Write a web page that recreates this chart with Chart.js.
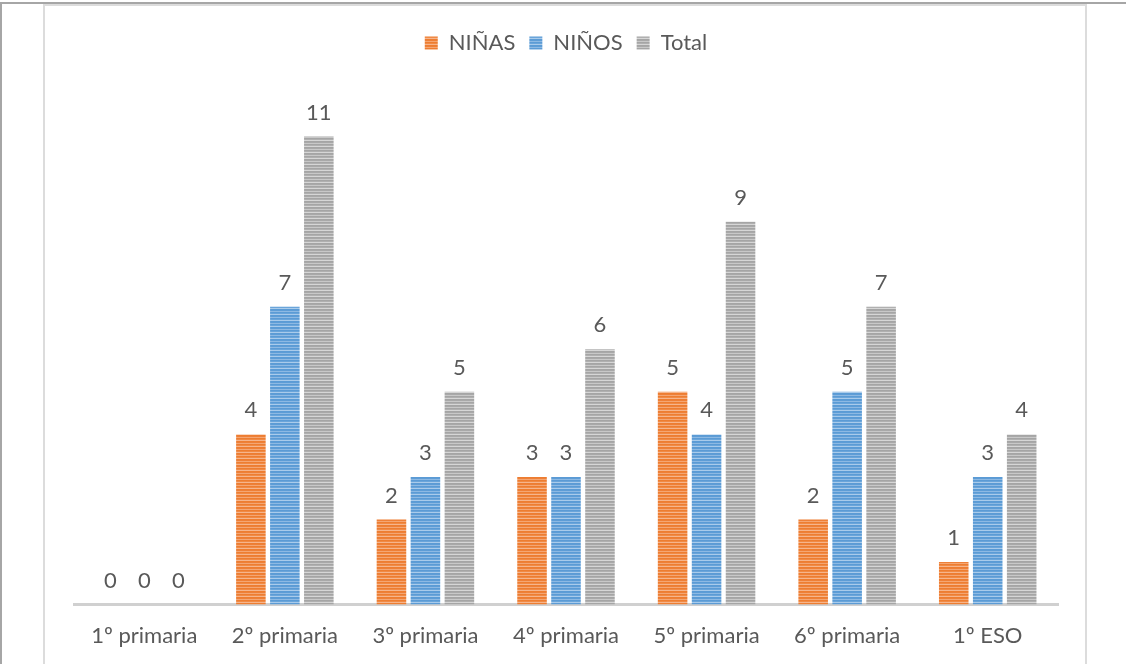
<!DOCTYPE html>
<html>
<head>
<meta charset="utf-8">
<script src="https://cdn.jsdelivr.net/npm/chart.js@4.4.1/dist/chart.umd.min.js"></script>
<style>
  html, body { margin: 0; padding: 0; background: #fff; width: 1126px; height: 664px; overflow: hidden; }
  #tableTop { position: absolute; left: 0; top: 2px; width: 1126px; height: 2px; background: #a6a6a6; }
  #tableLeft { position: absolute; left: 0; top: 2px; width: 2px; height: 662px; background: #a6a6a6; }
  #frame { position: absolute; left: 43px; top: 4px; width: 1040px; height: 680px; border: 2px solid #dcdcdc; box-sizing: content-box; }
  #wrap { position: absolute; left: 45px; top: 6px; width: 1040px; height: 664px; }
</style>
</head>
<body>
<div id="tableTop"></div>
<div id="tableLeft"></div>
<div id="frame"></div>
<div id="wrap"><canvas id="c" width="1040" height="664"></canvas></div>
<script>
const categories = ['1º primaria', '2º primaria', '3º primaria', '4º primaria', '5º primaria', '6º primaria', '1º ESO'];
const seriesNames = ['NIÑAS', 'NIÑOS', 'Total'];
const ninas = [0, 4, 2, 3, 5, 2, 1];
const ninos = [0, 7, 3, 3, 4, 5, 3];
const total = [0, 11, 5, 6, 9, 7, 4];

const FONT = 'Lato, "Open Sans", sans-serif';

function stripePattern(rows) {
  const cv = document.createElement('canvas');
  cv.width = 4; cv.height = rows.length;
  const cx = cv.getContext('2d');
  rows.forEach((col, i) => { cx.fillStyle = col; cx.fillRect(0, i, 4, 1); });
  return cx.createPattern(cv, 'repeat');
}
const orangePat = stripePattern(['#ED7D31', '#F08A45', '#F6B58C', '#ED7D31', '#EE8038', '#F4A673']);
const bluePat = stripePattern(['#5B9BD5', '#6AA5DA', '#A9CBEB', '#5B9BD5', '#5E9DD6', '#8DB9E3']);
const grayPat = stripePattern(['#A5A5A5', '#B0B0B0', '#D6D6D6', '#A5A5A5', '#A9A9A9', '#C8C8C8']);

const valueLabels = {
  id: 'valueLabels',
  afterDatasetsDraw(chart) {
    const ctx = chart.ctx;
    ctx.save();
    ctx.font = '22px ' + FONT;
    ctx.fillStyle = '#595959';
    ctx.textAlign = 'center';
    ctx.textBaseline = 'alphabetic';
    chart.data.datasets.forEach((ds, i) => {
      const meta = chart.getDatasetMeta(i);
      meta.data.forEach((el, j) => {
        ctx.fillText(String(ds.data[j]), el.x, el.y - 17);
      });
    });
    ctx.restore();
  }
};
const legendSpace = {
  id: 'legendSpace',
  beforeInit(chart) {
    const origFit = chart.legend.fit;
    chart.legend.fit = function () { origFit.bind(chart.legend)(); this.height += 30; };
  }
};

new Chart(document.getElementById('c'), {
  type: 'bar',
  data: {
    labels: categories,
    datasets: [
      { label: seriesNames[0], data: ninas, backgroundColor: orangePat, borderWidth: 0 },
      { label: seriesNames[1], data: ninos, backgroundColor: bluePat, borderWidth: 0 },
      { label: seriesNames[2], data: total, backgroundColor: grayPat, borderWidth: 0 }
    ]
  },
  plugins: [valueLabels, legendSpace],
  options: {
    responsive: false,
    animation: false,
    devicePixelRatio: 1,
    layout: { padding: { left: 29, right: 27, top: 12, bottom: 11 } },
    datasets: { bar: { categoryPercentage: 0.725, barPercentage: 0.87 } },
    plugins: {
      legend: {
        position: 'top',
        align: 'center',
        labels: {
          boxWidth: 13, boxHeight: 13, padding: 14,
          color: '#595959',
          font: { family: FONT, size: 22 }
        }
      },
      tooltip: { enabled: false }
    },
    scales: {
      x: {
        grid: { display: false },
        border: { display: true, color: '#D0D0D0', width: 3 },
        ticks: { color: '#595959', padding: 10, font: { family: FONT, size: 22 } }
      },
      y: { display: false, min: 0, max: 12 }
    }
  }
});
</script>
</body>
</html>
